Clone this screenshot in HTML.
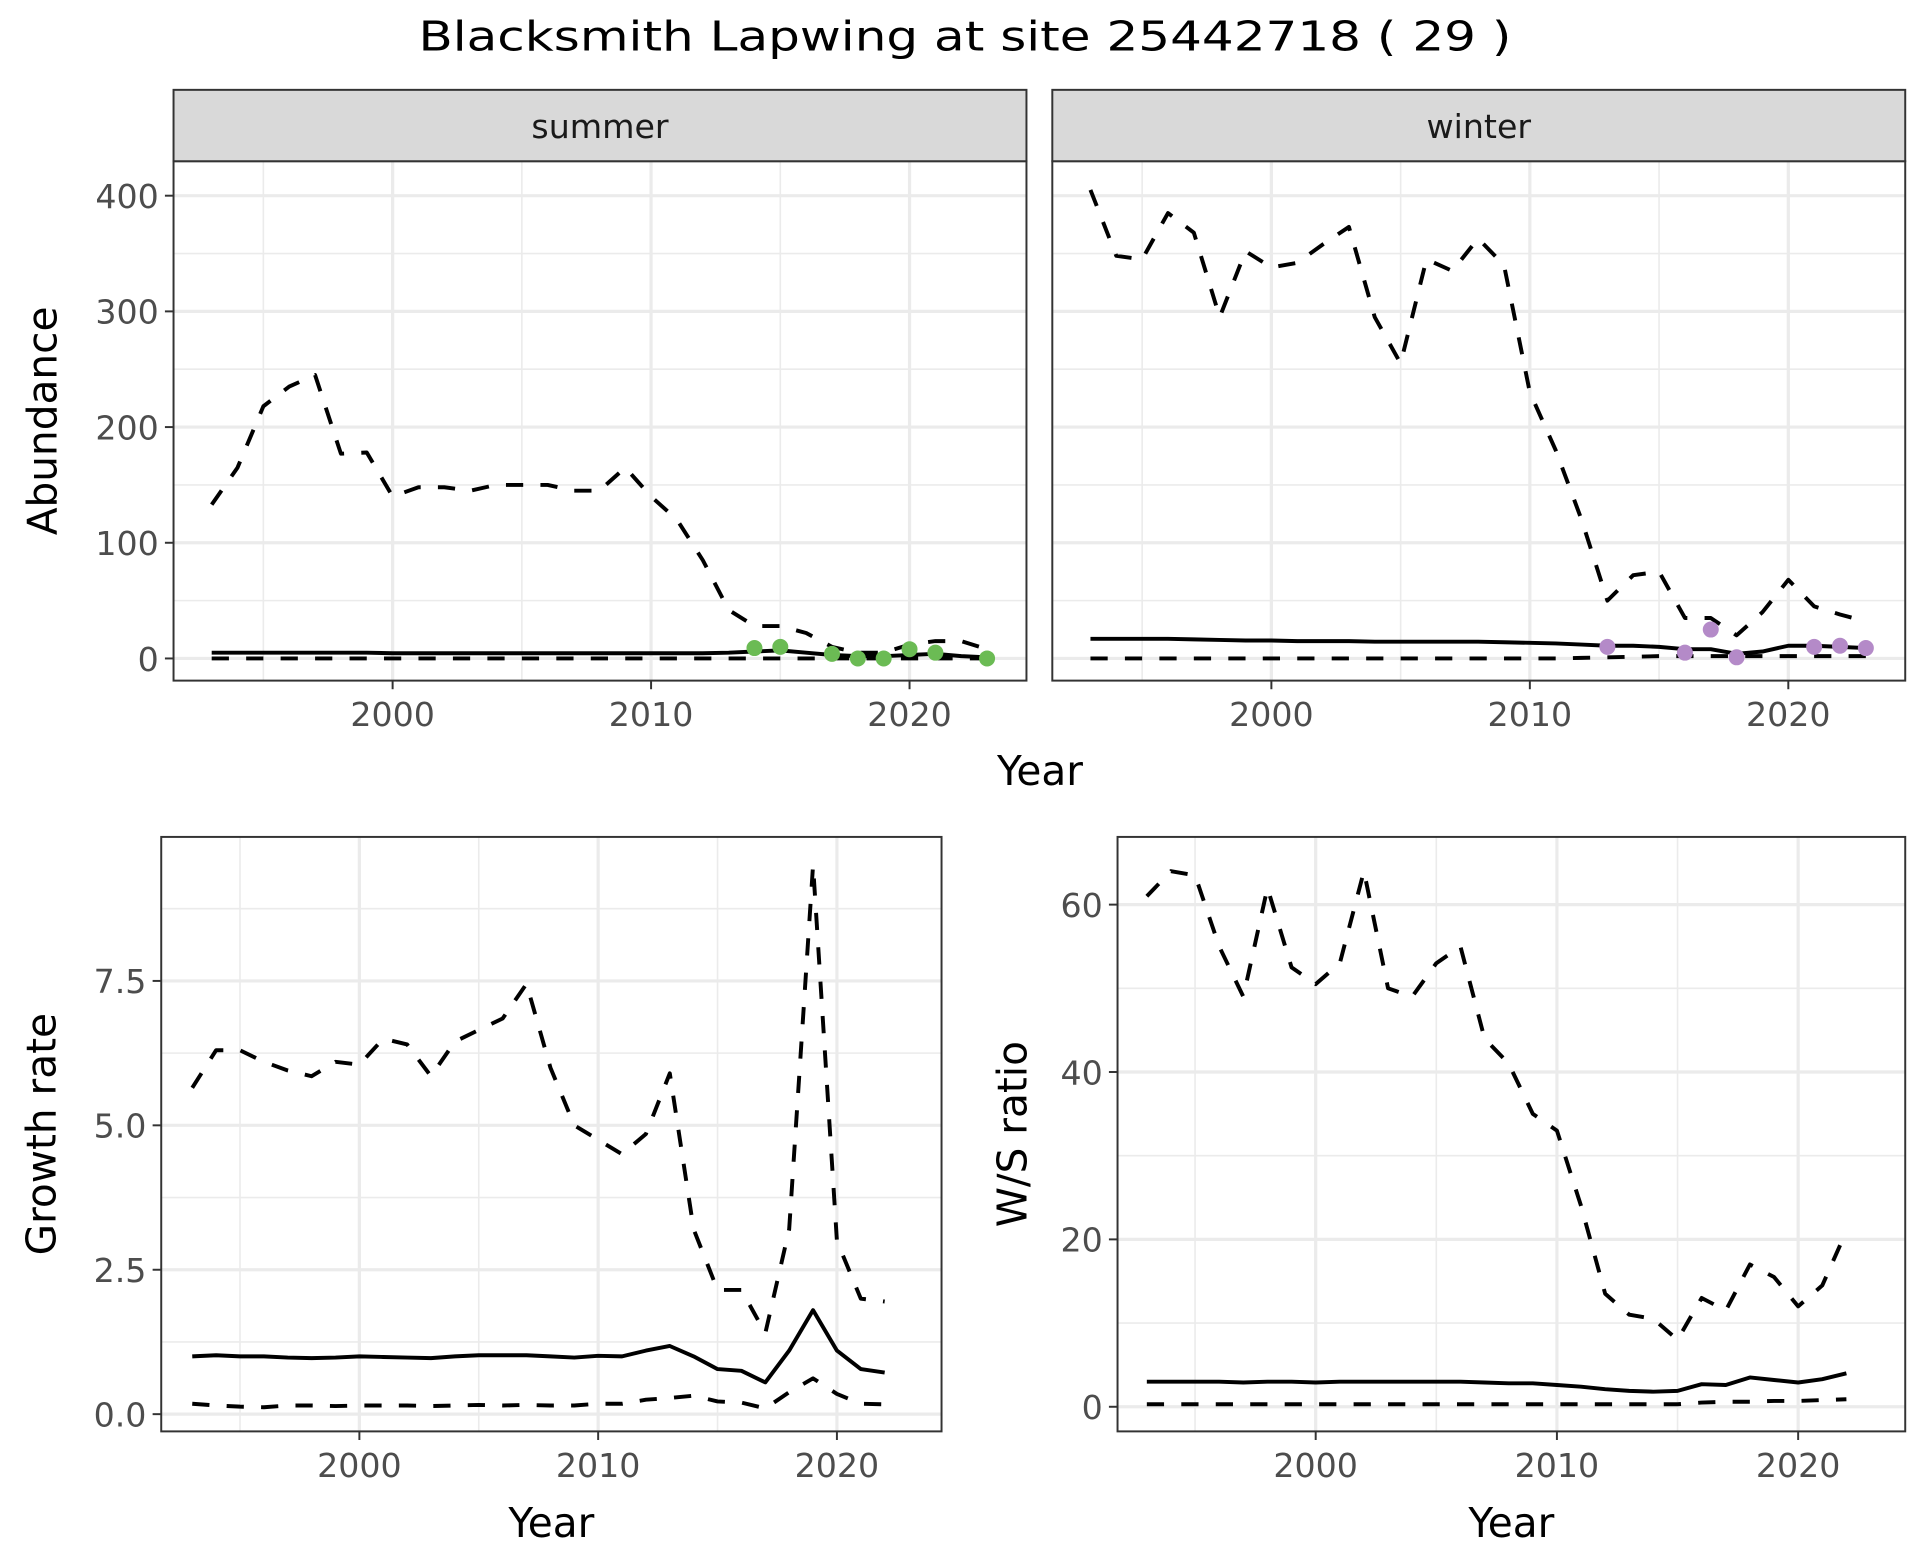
<!DOCTYPE html>
<html><head><meta charset="utf-8"><style>
html,body{margin:0;padding:0;background:#fff}
svg{display:block;font-family:"DejaVu Sans","Liberation Sans",sans-serif}
</style></head><body>
<svg id="chart" width="1920" height="1560" viewBox="0 0 1560 1267.5" xmlns="http://www.w3.org/2000/svg">
<text x="784" y="41" font-size="33" text-anchor="middle" fill="#000" textLength="888" lengthAdjust="spacingAndGlyphs">Blacksmith Lapwing at site 25442718 ( 29 )</text>
</svg>
<script>
const yearsA = [1993,1994,1995,1996,1997,1998,1999,2000,2001,2002,2003,2004,2005,2006,2007,2008,2009,2010,2011,2012,2013,2014,2015,2016,2017,2018,2019,2020,2021,2022,2023];
const summerUpper = [133,165,218,235,245,177,178,140,148,148,145,150,150,150,145,145,165,140,120,85,42,28,28,22,10,5,5,12,15,15,8];
const summerMean = [5,5,5,5,5,5,5,4.5,4.5,4.5,4.5,4.5,4.5,4.5,4.5,4.5,4.5,4.5,4.5,4.5,5,6,7,5,3,2,2,3,4,2,1];
const summerLower = [0,0,0,0,0,0,0,0,0,0,0,0,0,0,0,0,0,0,0,0,0,0,0,0,0,0,0,0,0,0,0];
const summerObsYears = [2014,2015,2017,2018,2019,2020,2021,2023];
const summerObs = [9,10,4,0,0,8,5,0];
const winterUpper = [405,348,345,385,368,295,352,338,342,358,373,295,255,345,335,363,340,230,180,120,50,72,75,35,35,20,40,68,45,38,32];
const winterMean = [17,17,17,17,16.5,16,15.5,15.5,15,15,15,14.5,14.5,14.5,14.5,14.5,14,13.5,13,12,11,11,10,8,8,4,6,11,11,10,9];
const winterLower = [0,0,0,0,0,0,0,0,0,0,0,0,0,0,0,0,0,0,0,0.5,1,1.5,2,2,2,2,2,2,2,2,2];
const winterObsYears = [2013,2016,2017,2018,2021,2022,2023];
const winterObs = [10,5,25,1,10,11,9];
const yearsB = [1993,1994,1995,1996,1997,1998,1999,2000,2001,2002,2003,2004,2005,2006,2007,2008,2009,2010,2011,2012,2013,2014,2015,2016,2017,2018,2019,2020,2021,2022];
const growthUpper = [5.65,6.3,6.3,6.1,5.95,5.85,6.1,6.05,6.5,6.4,5.85,6.45,6.65,6.85,7.45,6.0,5.0,4.75,4.5,4.85,5.9,3.2,2.15,2.15,1.4,3.2,9.5,3.0,2.0,1.95];
const growthMean = [1.0,1.02,1.0,1.0,0.98,0.97,0.98,1.0,0.99,0.98,0.97,1.0,1.02,1.02,1.02,1.0,0.98,1.01,1.0,1.1,1.18,1.0,0.78,0.75,0.55,1.1,1.8,1.1,0.78,0.72];
const growthLower = [0.18,0.15,0.13,0.12,0.15,0.15,0.14,0.15,0.15,0.15,0.14,0.15,0.16,0.15,0.16,0.15,0.15,0.18,0.18,0.25,0.28,0.32,0.22,0.2,0.1,0.38,0.62,0.35,0.18,0.17];
const ratioUpper = [61,64,63.5,55,49,62,52.5,50.5,53,64,50,49,53,55,44,41,35,33,24,13.5,11,10.5,8,13,11.5,17,15.5,12,14.5,21];
const ratioMean = [3,3,3,3,2.9,3,3,2.9,3,3,3,3,3,3,2.9,2.8,2.8,2.6,2.4,2.1,1.9,1.8,1.9,2.7,2.6,3.5,3.2,2.9,3.3,4.0];
const ratioLower = [0.3,0.3,0.3,0.3,0.3,0.3,0.3,0.3,0.3,0.3,0.3,0.3,0.3,0.3,0.3,0.3,0.3,0.3,0.3,0.3,0.3,0.3,0.3,0.5,0.6,0.6,0.7,0.7,0.8,0.9];
const abundTicks = [0,100,200,300,400];
const growthTicks = [0,2.5,5.0,7.5];
const growthTickLabels = ["0.0","2.5","5.0","7.5"];
const ratioTicks = [0,20,40,60];
const yearTicks = [2000,2010,2020];

const svg = document.getElementById('chart');
const NS = 'http://www.w3.org/2000/svg';
function mk(tag, attrs, parent){const e=document.createElementNS(NS,tag);for(const k in attrs)e.setAttribute(k,attrs[k]);(parent||svg).appendChild(e);return e;}

function panel(o){
  const g = mk('g',{});
  
  
  const X = v => o.x0 + (v - o.xr[0]) / (o.xr[1]-o.xr[0]) * (o.x1 - o.x0);
  const Y = v => o.yb - (v - o.yr[0]) / (o.yr[1]-o.yr[0]) * (o.yb - o.yt);
  o.yMinor.forEach(v=>{const l=mk('line',{x1:o.L,x2:o.R,y1:Y(v),y2:Y(v),stroke:'#ebebeb','stroke-width':1.3},g);});
  o.xMinor.forEach(v=>{const l=mk('line',{x1:X(v),x2:X(v),y1:o.T,y2:o.B,stroke:'#ebebeb','stroke-width':1.3},g);});
  o.yTicks.forEach(v=>{const l=mk('line',{x1:o.L,x2:o.R,y1:Y(v),y2:Y(v),stroke:'#ebebeb','stroke-width':2.6},g);});
  yearTicks.forEach(v=>{const l=mk('line',{x1:X(v),x2:X(v),y1:o.T,y2:o.B,stroke:'#ebebeb','stroke-width':2.6},g);});
  const line=(ys,dash,nm)=>{
    const d = o.years.map((yr,i)=>(i?'L':'M')+X(yr).toFixed(2)+','+Y(ys[i]).toFixed(2)).join('');
    const p = mk('path',{d:d,fill:'none',stroke:'#000','stroke-width':3.2,'stroke-dasharray':dash?'14 14':'none','stroke-linejoin':'round'},g);
    
    
  };
  line(o.upper,true,'upper-bound-line');
  line(o.lower,true,'lower-bound-line');
  line(o.mean,false,'mean-line');
  if(o.obs){o.obsYears.forEach((yr,i)=>{const c=mk('circle',{cx:X(yr),cy:Y(o.obs[i]),r:6.5,fill:o.obsColor},g);});}
  const b=mk('rect',{x:o.L,y:o.T,width:o.R-o.L,height:o.B-o.T,fill:'none',stroke:'#333','stroke-width':1.6},g);
  
  if(o.strip){
    const s=mk('rect',{x:o.L,y:o.T-58,width:o.R-o.L,height:58,fill:'#d9d9d9',stroke:'#333','stroke-width':1.6},g);
    
    const st=mk('text',{x:(o.L+o.R)/2,y:o.T-19,'font-size':27,'text-anchor':'middle',fill:'#1a1a1a'},g);st.textContent=o.strip;
    
  }
  yearTicks.forEach(v=>{
    const t=mk('line',{x1:X(v),x2:X(v),y1:o.B,y2:o.B+7,stroke:'#333','stroke-width':1.6},g);
    const tx=mk('text',{x:X(v),y:o.B+37,'font-size':27,'text-anchor':'middle',fill:'#4d4d4d'},g);tx.textContent=v;
    
  });
  if(o.yLabels){
    o.yTicks.forEach((v,i)=>{
      const t=mk('line',{x1:o.L-7,x2:o.L,y1:Y(v),y2:Y(v),stroke:'#333','stroke-width':1.6},g);
      const tx=mk('text',{x:o.L-12,y:Y(v)+10,'font-size':27,'text-anchor':'end',fill:'#4d4d4d'},g);tx.textContent=o.yLabels[i];
      
    });
  }
  if(o.ytitle){
    const t=mk('text',{x:0,y:0,'font-size':33,'text-anchor':'middle',fill:'#000',transform:`translate(${o.ytx},${(o.T+o.B)/2}) rotate(-90)`},g);t.textContent=o.ytitle;
    
  }
  if(o.xtitle){
    const t=mk('text',{x:(o.L+o.R)/2,y:1249,'font-size':33,'text-anchor':'middle',fill:'#000'},g);t.textContent='Year';
    
  }
}

const abXr=[2000,2010];
panel({name:'summer-panel',L:141,R:834,T:131,B:553,x0:319,x1:529,xr:abXr,yb:535,yt:159,yr:[0,400],years:yearsA,upper:summerUpper,mean:summerMean,lower:summerLower,obs:summerObs,obsYears:summerObsYears,obsColor:'#6bbb54',yTicks:abundTicks,yMinor:[50,150,250,350],xMinor:[1995,2005,2015],yLabels:abundTicks.map(String),ytitle:'Abundance',ytx:46,strip:'summer'});
panel({name:'winter-panel',L:855,R:1548,T:131,B:553,x0:1033,x1:1243,xr:abXr,yb:535,yt:159,yr:[0,400],years:yearsA,upper:winterUpper,mean:winterMean,lower:winterLower,obs:winterObs,obsYears:winterObsYears,obsColor:'#b48ac8',yTicks:abundTicks,yMinor:[50,150,250,350],xMinor:[1995,2005,2015],strip:'winter'});
const yt=mk('text',{x:845,y:638,'font-size':33,'text-anchor':'middle',fill:'#000'});yt.textContent='Year';


panel({name:'growth-rate-panel',L:131,R:765,T:680,B:1163,x0:292,x1:486,xr:abXr,yb:1149,yt:797,yr:[0,7.5],years:yearsB,upper:growthUpper,mean:growthMean,lower:growthLower,yTicks:growthTicks,yMinor:[1.25,3.75,6.25,8.75],xMinor:[1995,2005,2015],yLabels:growthTickLabels,ytitle:'Growth rate',ytx:45,xtitle:true});
panel({name:'ws-ratio-panel',L:908,R:1548,T:680,B:1163,x0:1069,x1:1265,xr:abXr,yb:1143,yt:735,yr:[0,60],years:yearsB,upper:ratioUpper,mean:ratioMean,lower:ratioLower,yTicks:ratioTicks,yMinor:[10,30,50],xMinor:[1995,2005,2015],yLabels:ratioTicks.map(String),ytitle:'W/S ratio',ytx:834,xtitle:true});
</script>
</body></html>
